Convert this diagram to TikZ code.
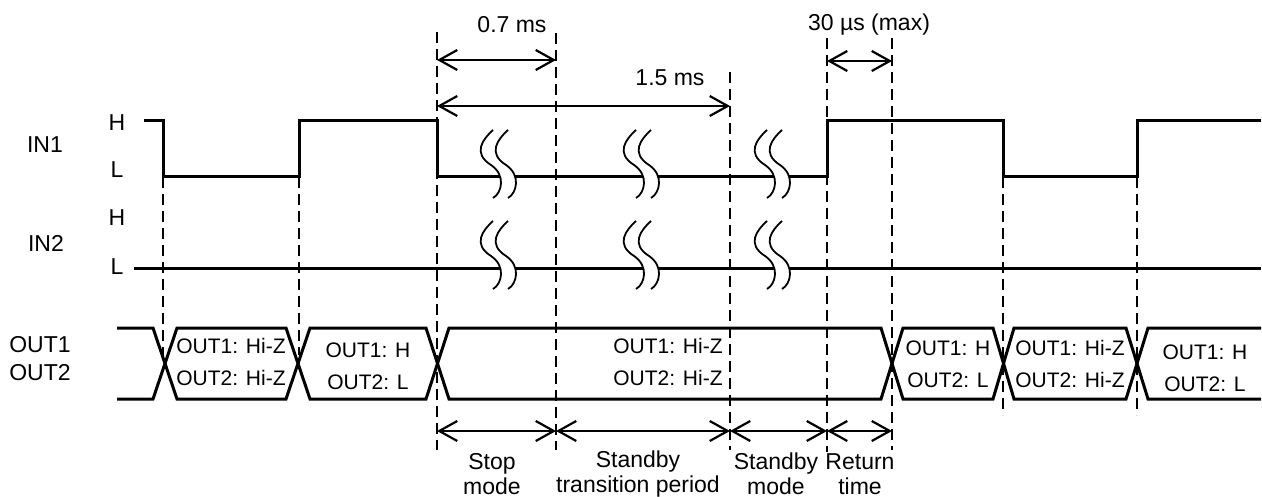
\documentclass[tikz,border=0pt]{standalone}
\usepackage{fontspec}
\setmainfont{Liberation Sans}
\usetikzlibrary{arrows.meta,calc}

% pair of wavy break marks, #1 = left x, #2 = signal level
\newcommand{\breakmark}[2]{%
  \begin{scope}[shift={(#1,#2)}]
    \fill[white] (13,-47) .. controls (3,-38) and (-8,-24) .. (11,-12) .. controls (26,-2) and (22,16) .. (13,21)
      -- (28,21) .. controls (37,16) and (41,-2) .. (26,-12) .. controls (7,-24) and (18,-38) .. (28,-47) -- cycle;
    \draw[brk line] (13,-47) .. controls (3,-38) and (-8,-24) .. (11,-12) .. controls (26,-2) and (22,16) .. (13,21);
    \draw[brk line] (28,-47) .. controls (18,-38) and (7,-24) .. (26,-12) .. controls (41,-2) and (37,16) .. (28,21);
  \end{scope}}

\begin{document}
\begin{tikzpicture}[x=0.5pt,y=-0.5pt]
\tikzset{
	sig line/.style = {line width = 1.5pt, line join = miter},
	guide line/.style = {line width = 1.2pt, dash pattern = on 5.5pt off 3pt},
	brk line/.style = {line width = 0.9pt},
	dim arrow/.style = {line width = 1.1pt, {Straight Barb[length=9pt,width=10pt]}-{Straight Barb[length=9pt,width=10pt]}},
	big text/.style = {inner sep = 0, font = \fontsize{11.5}{12.5}\selectfont},
	box text/.style = {inner sep = 0, align = center, font = \fontsize{10.5}{16}\selectfont}
}
\useasboundingbox (0,0) rectangle (1262,497);

% signal names and levels
\node(in1)[big text] at (45,145) {IN1};
\node(in2)[big text] at (46,243) {IN2};
\node(h1)[big text] at (117,123) {H};
\node(l1)[big text] at (117,170) {L};
\node(h2)[big text] at (117,218) {H};
\node(l2)[big text] at (117,267) {L};
\node(out)[big text, align = left, font = \fontsize{11.5}{14}\selectfont] at (40,359) {OUT1\\OUT2};

% guide lines
\foreach \x/\ya/\yb in {163/177/360, 299/177/355, 437/32/450, 556/33/450, 730/72/450,
                        827/38/452, 892/38/450, 1003/177/415, 1137/177/415}
	\draw[guide line] (\x,\ya) -- (\x,\yb);

% IN1 and IN2
\draw[sig line] (144,121) -- (163,121) -- (163,177) -- (299,177) -- (299,121) -- (437,121)
	-- (437,177) -- (827,177) -- (827,121) -- (1003,121) -- (1003,177) -- (1137,177)
	-- (1137,121) -- (1261,121);
\draw[sig line] (134,268) -- (1261,268);
\foreach \x in {480,623,754} {
	\breakmark{\x}{177}
	\breakmark{\x}{268}
}

% OUT1 / OUT2 bus
\draw[sig line] (117,328) -- (153,328) -- (177,399) -- (286,399) -- (310,328) -- (426,328)
	-- (449,399) -- (881,399) -- (903,328) -- (993,328) -- (1014,399) -- (1126,399)
	-- (1148,328) -- (1261,328);
\draw[sig line] (117,399) -- (153,399) -- (177,328) -- (286,328) -- (310,399) -- (426,399)
	-- (449,328) -- (881,328) -- (903,399) -- (993,399) -- (1014,328) -- (1126,328)
	-- (1148,399) -- (1261,399);
\node(b1)[box text] at (231,362) {OUT1: Hi-Z\\OUT2: Hi-Z};
\node(b2)[box text] at (368,366) {OUT1: H\\OUT2: L};
\node(b3)[box text] at (668,362) {OUT1: Hi-Z\\OUT2: Hi-Z};
\node(b4)[box text] at (948,364) {OUT1: H\\OUT2: L};
\node(b5)[box text] at (1070,364) {OUT1: Hi-Z\\OUT2: Hi-Z};
\node(b6)[box text] at (1205,368) {OUT1: H\\OUT2: L};

% timing marks
\coordinate (stopA) at (437,60);
\coordinate (stopB) at (556,60);
\coordinate (tranA) at (437,106);
\coordinate (tranB) at (730,106);
\coordinate (retA) at (827,61);
\coordinate (retB) at (892,61);
\draw[dim arrow] (stopA) -- (stopB);
\draw[dim arrow] (tranA) -- (tranB);
\draw[dim arrow] (retA) -- (retB);
\node(t07)[big text] at (512,25) {0.7 ms};
\node(t15)[big text] at (670,78) {1.5 ms};
\node(t30)[big text] at (869,25) {30 µs (max)};

% periods
\coordinate (p0) at (437,431);
\coordinate (p1) at (556,431);
\coordinate (p2) at (730,431);
\coordinate (p3) at (827,431);
\coordinate (p4) at (892,431);
\draw[dim arrow] (p0) -- (p1);
\draw[dim arrow] (p1) -- (p2);
\draw[dim arrow] (p2) -- (p3);
\draw[dim arrow] (p3) -- (p4);
\node(m1)[big text, align = center] at (492,474) {Stop\\mode};
\node(m2)[big text, align = center] at (638,474) {Standby\\transition period};
\node(m3)[big text, align = center] at (776,474) {Standby\\mode};
\node(m4)[big text, align = center] at (860,474) {Return\\time};
\end{tikzpicture}
\end{document}
